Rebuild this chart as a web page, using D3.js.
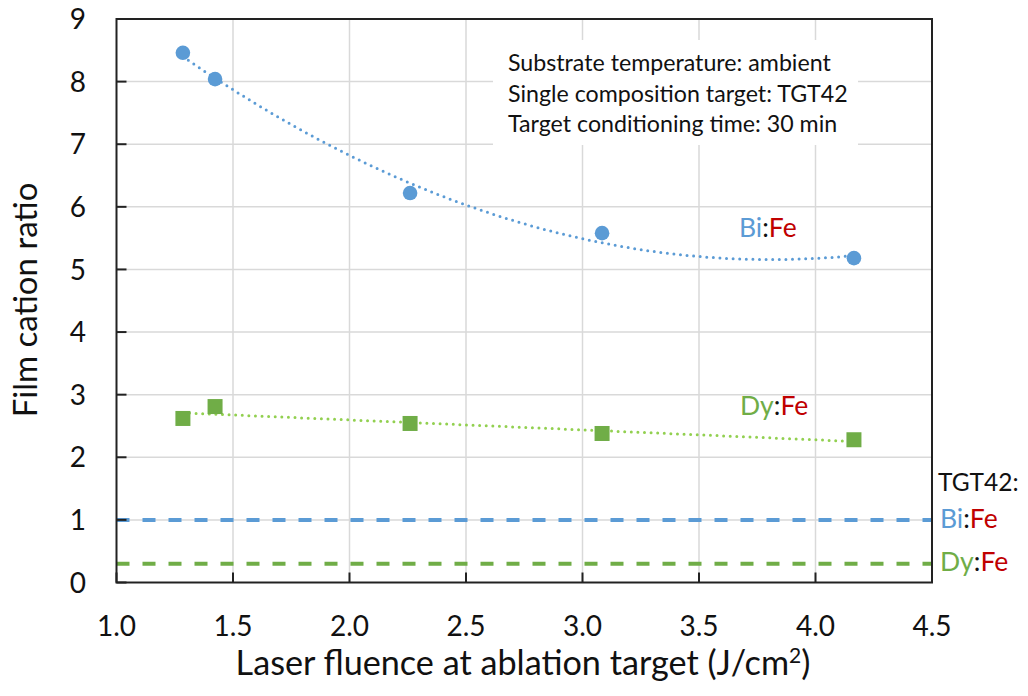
<!DOCTYPE html>
<html>
<head>
<meta charset="utf-8">
<script src="https://cdn.jsdelivr.net/npm/d3@7"></script>
<style>
  html, body { margin: 0; padding: 0; background: #fff; }
  svg text { font-family: Lato, "Open Sans", sans-serif; }
</style>
</head>
<body>
<svg id="chart" width="1028" height="696"></svg>
<script>
// Laser fluence (J/cm²) for each deposited film
const fluence = [1.285, 1.423, 2.26, 3.084, 4.165];
// Measured film cation ratios
const biFe = [8.46, 8.04, 6.22, 5.58, 5.18];
const dyFe = [2.62, 2.81, 2.54, 2.38, 2.28];
// Target (TGT42) nominal ratios
const targetBiFe = 1.0;
const targetDyFe = 0.3;
// Axis ticks
const xTicks = [1.0, 1.5, 2.0, 2.5, 3.0, 3.5, 4.0, 4.5];
const yTicks = [0, 1, 2, 3, 4, 5, 6, 7, 8, 9];
const infoLines = [
  "Substrate temperature: ambient",
  "Single composition target: TGT42",
  "Target conditioning time: 30 min"
];

const BLUE = "#5B9BD5", GREEN = "#70AD47", GREEN_TREND = "#92D050", RED = "#C00000";

const svg = d3.select("#chart");
const m = { left: 116.5, top: 19, right: 1028 - 932, bottom: 696 - 582.5 };
const W = 1028 - m.left - m.right, H = 696 - m.top - m.bottom;

const x = d3.scaleLinear().domain([1.0, 4.5]).range([0, W]);
const y = d3.scaleLinear().domain([0, 9]).range([H, 0]);

const g = svg.append("g").attr("transform", `translate(${m.left},${m.top})`);

// Gridlines
g.append("g").selectAll("line").data(xTicks.slice(1, -1)).join("line")
  .attr("x1", d => x(d)).attr("x2", d => x(d)).attr("y1", 0).attr("y2", H)
  .attr("stroke", "#D9D9D9").attr("stroke-width", 1.5);
g.append("g").selectAll("line").data(yTicks.slice(1, -1)).join("line")
  .attr("x1", 0).attr("x2", W).attr("y1", d => y(d)).attr("y2", d => y(d))
  .attr("stroke", "#D9D9D9").attr("stroke-width", 1.5);

// Info box (white, hides the grid behind it)
const box = g.append("g");
box.append("rect").attr("x", 493 - m.left).attr("y", 40 - m.top)
  .attr("width", 365).attr("height", 105).attr("fill", "#fff");
box.selectAll("text").data(infoLines).join("text")
  .attr("x", 508 - m.left).attr("y", (d, i) => 71 - m.top + i * 30.5)
  .attr("font-size", 23.2).attr("fill", "#111").text(d => d);

// Least-squares polynomial fit
function polyFit(xs, ys, order) {
  const n = order + 1;
  const A = Array.from({ length: n }, () => new Array(n + 1).fill(0));
  xs.forEach((xv, k) => {
    for (let i = 0; i < n; i++) {
      for (let j = 0; j < n; j++) A[i][j] += Math.pow(xv, i + j);
      A[i][n] += ys[k] * Math.pow(xv, i);
    }
  });
  for (let i = 0; i < n; i++) {
    let p = i;
    for (let r = i + 1; r < n; r++) if (Math.abs(A[r][i]) > Math.abs(A[p][i])) p = r;
    [A[i], A[p]] = [A[p], A[i]];
    for (let r = 0; r < n; r++) {
      if (r === i) continue;
      const f = A[r][i] / A[i][i];
      for (let c = i; c <= n; c++) A[r][c] -= f * A[i][c];
    }
  }
  const coef = A.map((row, i) => row[n] / row[i]);
  return xv => coef.reduce((s, c, i) => s + c * Math.pow(xv, i), 0);
}

function trend(ys, order, color) {
  const f = polyFit(fluence, ys, order);
  const [x0, x1] = d3.extent(fluence);
  const pts = d3.range(0, 101).map(i => x0 + (x1 - x0) * i / 100);
  g.append("path")
    .attr("d", d3.line().x(d => x(d)).y(d => y(f(d)))(pts))
    .attr("fill", "none").attr("stroke", color).attr("stroke-width", 3)
    .attr("stroke-linecap", "round").attr("stroke-dasharray", "0,6.6");
}

// Target reference lines
[[targetBiFe, BLUE], [targetDyFe, GREEN]].forEach(([v, c]) => {
  g.append("line").attr("x1", 0).attr("x2", W).attr("y1", y(v)).attr("y2", y(v))
    .attr("stroke", c).attr("stroke-width", 4).attr("stroke-dasharray", "13,13");
});

trend(biFe, 2, BLUE);
trend(dyFe, 1, GREEN_TREND);

// Markers
g.append("g").selectAll("circle").data(fluence).join("circle")
  .attr("cx", d => x(d)).attr("cy", (d, i) => y(biFe[i])).attr("r", 7.3).attr("fill", BLUE);
g.append("g").selectAll("rect").data(fluence).join("rect")
  .attr("x", d => x(d) - 7.5).attr("y", (d, i) => y(dyFe[i]) - 7.5)
  .attr("width", 15).attr("height", 15).attr("fill", GREEN);

// Frame and inward ticks
const frame = g.append("g");
frame.append("rect").attr("width", W).attr("height", H).attr("fill", "none")
  .attr("stroke", "#222").attr("stroke-width", 2);
frame.selectAll(".yt").data(yTicks).join("line").attr("class", "yt")
  .attr("x1", 0).attr("x2", 10).attr("y1", d => y(d)).attr("y2", d => y(d))
  .attr("stroke", "#222").attr("stroke-width", 2);
frame.selectAll(".xt").data(xTicks).join("line").attr("class", "xt")
  .attr("x1", d => x(d)).attr("x2", d => x(d)).attr("y1", H).attr("y2", H - 10)
  .attr("stroke", "#222").attr("stroke-width", 2);

// Tick labels
g.append("g").selectAll("text").data(yTicks).join("text")
  .attr("x", 86 - m.left).attr("y", d => y(d)).attr("dy", "0.36em")
  .attr("text-anchor", "end").attr("font-size", 28).attr("fill", "#111")
  .text(d => d3.format("d")(d));
g.append("g").selectAll("text").data(xTicks).join("text")
  .attr("x", d => x(d)).attr("y", 636 - m.top)
  .attr("text-anchor", "middle").attr("font-size", 28).attr("fill", "#111")
  .text(d => d3.format(".1f")(d));

// Axis titles
svg.append("text").attr("transform", "translate(37,300) rotate(-90)")
  .attr("text-anchor", "middle").attr("font-size", 33).attr("fill", "#111")
  .text("Film cation ratio");
const xt = svg.append("text").attr("x", 523).attr("y", 675)
  .attr("text-anchor", "middle").attr("font-size", 34.2).attr("fill", "#111");
xt.append("tspan").text("Laser fluence at ablation target (J/cm");
xt.append("tspan").attr("font-size", 21).attr("dy", -12).text("2");
xt.append("tspan").attr("dy", 12).text(")");

// Ratio labels with element-coloured parts
function ratioLabel(px, py, el, elColor) {
  const t = svg.append("text").attr("x", px).attr("y", py).attr("font-size", 26.5);
  t.append("tspan").attr("fill", elColor).text(el);
  t.append("tspan").attr("fill", "#111").text(":");
  t.append("tspan").attr("fill", RED).text("Fe");
}
ratioLabel(739, 237, "Bi", BLUE);
ratioLabel(740, 415, "Dy", GREEN);
svg.append("text").attr("x", 938).attr("y", 491).attr("font-size", 24.5)
  .attr("fill", "#111").text("TGT42:");
ratioLabel(940, 528, "Bi", BLUE);
ratioLabel(940, 571, "Dy", GREEN);
</script>
</body>
</html>
